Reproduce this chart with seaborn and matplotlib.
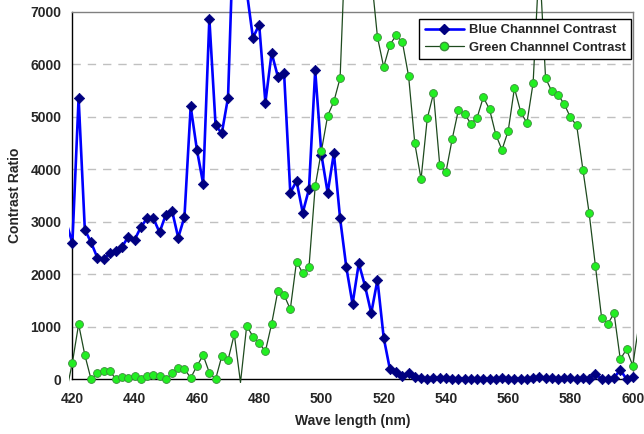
#%%
# Import libraries
import pandas as pd
import seaborn as sns
import matplotlib
matplotlib.use("Agg")
import matplotlib.pyplot as plt
from matplotlib.lines import Line2D
from matplotlib.transforms import Bbox, TransformedBbox

#%%
# Wavelength grid (nm), one point every 2 nm (418 and 602 lie just outside the axis)
wavelength = [418, 420, 422, 424, 426, 428, 430, 432, 434, 436, 438, 440, 442, 444,
              446, 448, 450, 452, 454, 456, 458, 460, 462, 464, 466, 468, 470, 472,
              474, 476, 478, 480, 482, 484, 486, 488, 490, 492, 494, 496, 498, 500,
              502, 504, 506, 508, 510, 512, 514, 516, 518, 520, 522, 524, 526, 528,
              530, 532, 534, 536, 538, 540, 542, 544, 546, 548, 550, 552, 554, 556,
              558, 560, 562, 564, 566, 568, 570, 572, 574, 576, 578, 580, 582, 584,
              586, 588, 590, 592, 594, 596, 598, 600, 602]

blue_contrast = [3000, 2600, 5360, 2850, 2610, 2320, 2295, 2400, 2450, 2530, 2720, 2660,
                 2900, 3070, 3070, 2800, 3135, 3215, 2700, 3095, 5200, 4375, 3730, 6870,
                 4840, 4690, 5370, 9000, 9500, 7400, 6505, 6760, 5275, 6220, 5770, 5835,
                 3555, 3780, 3175, 3625, 5885, 4280, 3555, 4310, 3065, 2135, 1435, 2210,
                 1780, 1260, 1895, 795, 190, 135, 70, 125, 40, 25, 0, 30, 25, 20, 5, 15,
                 15, 5, 5, 10, 15, 10, 20, 10, 10, 15, 10, 20, 45, 30, 25, 15, 25, 20,
                 15, 20, 15, 100, 10, 15, 30, 180, 5, 40, 30]

green_contrast = [-250, 317, 1050, 463, 0, 114, 160, 160, 0, 44, 30, 56, 0, 70, 80, 70,
                  0, 114, 220, 200, 25, 254, 458, 127, 0, 444, 368, 858, -60, 1022, 813,
                  686, 534, 1055, 1684, 1608, 1335, 2243, 2022, 2136, 3680, 4354, 5022,
                  5295, 5741, 8800, 14000, 16000, 12000, 7700, 6523, 5951, 6376, 6553,
                  6427, 5779, 4494, 3815, 4971, 5448, 4087, 3948, 4577, 5131, 5060, 4869,
                  4984, 5375, 5146, 4665, 4373, 4736, 5550, 5098, 4883, 5646, 8000, 5741,
                  5486, 5422, 5245, 4990, 4837, 3992, 3166, 2167, 1175, 1055, 1259, 381,
                  572, 260, 1050]

series_names = ["Blue Channnel Contrast", "Green Channnel Contrast"]

#%%
data = pd.DataFrame({"wavelength": wavelength,
                     "blue": blue_contrast,
                     "green": green_contrast})

sns.set_style("white")
plt.rcParams["font.family"] = ["Liberation Sans", "DejaVu Sans"]
plt.rcParams["font.weight"] = "bold"

fig = plt.figure(figsize=(6.44, 4.34), dpi=100)
ax = fig.add_axes([0.1124, 0.126, 0.8701, 0.8464])

# Lines (Excel lets them run a little past the plot area)
sns.lineplot(data=data, x="wavelength", y="blue", ax=ax, color="#0000FF",
             linewidth=1.9, zorder=3)
sns.lineplot(data=data, x="wavelength", y="green", ax=ax, color="#1E4A1E",
             linewidth=0.9, zorder=5)
clip = TransformedBbox(Bbox.from_extents(-0.006, -0.011, 1.008, 1.04), ax.transAxes)
for line in ax.lines:
    line.set_clip_box(clip)

# Markers only for points inside the axis range
in_x = (data["wavelength"] >= 420) & (data["wavelength"] <= 600)
blue_pts = data[in_x & (data["blue"] >= 0) & (data["blue"] <= 7000)]
green_pts = data[in_x & (data["green"] >= 0) & (data["green"] <= 7000)]
sns.scatterplot(data=blue_pts, x="wavelength", y="blue", ax=ax, marker="D", s=28,
                color="#000080", edgecolor="#000080", linewidth=0.5, zorder=4,
                clip_on=False)
sns.scatterplot(data=green_pts, x="wavelength", y="green", ax=ax, marker="o", s=32,
                color="#22EE22", edgecolor="#3C8C3C", linewidth=0.6, zorder=6,
                clip_on=False)

ax.set_xlim(420, 600)
ax.set_ylim(0, 7000)
ax.set_xticks(range(420, 601, 20))
ax.set_yticks(range(0, 7001, 1000))
ax.tick_params(axis="x", direction="in", length=4, width=1, pad=9, labelsize=10)
ax.tick_params(axis="y", direction="out", length=4, width=1, pad=4, labelsize=10)
for lbl in ax.get_xticklabels() + ax.get_yticklabels():
    lbl.set_fontweight("bold")

# Dashed gridlines
for v in range(1000, 7000, 1000):
    ax.axhline(v, color="#C0C0C0", linewidth=1, linestyle=(0, (6, 5)), zorder=1)

for side in ["left", "bottom"]:
    ax.spines[side].set_color("black")
    ax.spines[side].set_linewidth(1)
for side in ["top", "right"]:
    ax.spines[side].set_color("#808080")
    ax.spines[side].set_linewidth(1)

ax.set_xlabel("Wave length (nm)", fontsize=10, fontweight="bold", labelpad=6)
ax.set_ylabel("Contrast Ratio", fontsize=10, fontweight="bold", labelpad=6)

handles = [
    Line2D([], [], color="#0000FF", linewidth=1.9, marker="D", markersize=5,
           markerfacecolor="#000080", markeredgecolor="#000080"),
    Line2D([], [], color="#1E4A1E", linewidth=0.9, marker="o", markersize=6,
           markerfacecolor="#22EE22", markeredgecolor="#3C8C3C"),
]
leg = ax.legend(handles, series_names, loc="upper right",
                bbox_to_anchor=(0.997, 0.981), borderaxespad=0, fancybox=False,
                framealpha=1, edgecolor="black", handlelength=3.0,
                prop={"weight": "bold", "size": 9.4}, labelspacing=0.4,
                borderpad=0.4, handletextpad=0.4)
leg.get_frame().set_linewidth(1)
leg.set_zorder(10)

fig.savefig("out.png", dpi=100)
